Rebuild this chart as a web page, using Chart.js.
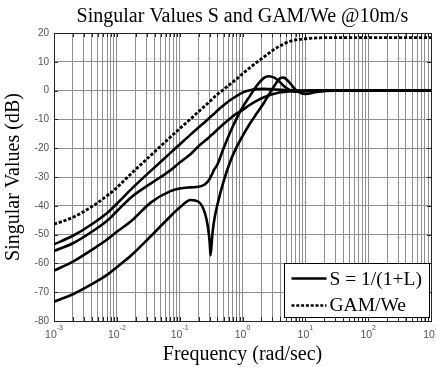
<!DOCTYPE html>
<html>
<head>
<meta charset="utf-8">
<script src="https://cdn.jsdelivr.net/npm/chart.js@4.4.1/dist/chart.umd.min.js"></script>
<style>
  html, body { margin: 0; padding: 0; background: #fff; }
  #wrap { width: 436px; height: 367px; }
</style>
</head>
<body>
<div id="wrap"><canvas id="svChart" width="436" height="367"></canvas></div>
<script>
// frequency points (rad/sec), shared by all curves
const freqs = [0.001, 0.002, 0.004, 0.007, 0.01, 0.017, 0.035, 0.07, 0.1, 0.15, 0.2, 0.25, 0.28, 0.3, 0.31, 0.33, 0.35, 0.4,
  0.5, 0.65, 0.8, 1, 1.3, 1.7, 2.2, 2.6, 3.2, 4, 4.5, 5.5, 7, 10, 15, 30, 100, 1000];

// singular values of S (dB)
const sv1 = [-53.4, -50.4, -46.4, -42.5, -39.3, -34.2, -27.8, -21.8, -18.7, -15.2, -12.8, -11.0, -10.0, -9.4, -9.1, -8.6, -8.1, -6.9,
  -5.1, -3.2, -1.9, -0.7, 0.1, 0.5, 0.6, 0.5, 0.4, 0.3, 0.2, 0.1, 0.1, 0, 0, 0, 0, 0];
const sv2 = [-55.7, -53.0, -49.0, -45.2, -41.9, -37.0, -32.2, -27.8, -25.0, -22.0, -19.3, -17.5, -16.6, -16.0, -15.7, -15.2, -14.7, -13.5,
  -11.6, -9.5, -8.0, -6.7, -5.0, -3.5, -2.3, -1.7, -1.1, -0.6, -0.5, -0.3, -0.2, -0.1, 0, 0, 0, 0];
const sv3 = [-62.5, -59.4, -55.3, -51.7, -49.0, -45.3, -38.8, -35.0, -34.0, -33.6, -33.4, -32.6, -31.6, -30.7, -30.1, -28.9, -27.6, -25.6,
  -20.0, -14.0, -9.8, -5.8, -2.0, 1.8, 4.4, 5.0, 4.5, 2.8, 1.7, 0.3, -0.4, -0.2, 0, 0, 0, 0];
const sv4 = [-73.3, -70.7, -67.2, -64.0, -61.3, -57.2, -50.5, -43.8, -40.6, -38.0, -38.6, -42.3, -47.0, -52.5, -57.2, -50.5, -45.8, -39.5,
  -31.5, -24.2, -19.7, -15.8, -11.6, -7.8, -4.2, -1.6, 1.6, 4.3, 4.5, 3.0, 0.3, -1.2, -0.5, 0, 0, 0];

// weighting GAM/We (dB)
const gamWe = [-46.4, -44.0, -40.3, -36.5, -33.7, -28.8, -22.4, -16.3, -13.2, -9.8, -7.3, -5.4, -4.4, -3.8, -3.5, -3.0, -2.4, -1.3,
  0.4, 2.4, 4.0, 5.8, 7.9, 9.9, 11.7, 12.9, 14.3, 15.6, 16.2, 17.0, 17.6, 18.0, 18.3, 18.4, 18.4, 18.4];

const decades = [-3, -2, -1, 0, 1, 2, 3];
const mantissas = [1, 2, 3, 4, 5, 6, 7, 8, 9];
const yTicks = [-80, -70, -60, -50, -40, -30, -20, -10, 0, 10, 20];
const legendLabels = ['S = 1/(1+L)', 'GAM/We'];

const GRID = '#8f8f8f';
const FRAME = '#262626';
const SERIF = '"Liberation Serif", "Times New Roman", serif';
const SANS = '"Liberation Sans", Arial, sans-serif';

function toPoints(vals) {
  return freqs.map((f, i) => ({ x: f, y: vals[i] }));
}

// every 1..9 x 10^n between 1e-3 and 1e3
const xTickValues = [];
decades.forEach(d => {
  if (d === decades[decades.length - 1]) { xTickValues.push(Math.pow(10, d)); return; }
  mantissas.forEach(m => xTickValues.push(m * Math.pow(10, d)));
});

// frame with inward tick marks, drawn over the grid
const framePlugin = {
  id: 'frame',
  beforeDatasetsDraw(chart) {
    const { ctx, chartArea: a, scales } = chart;
    ctx.save();
    ctx.strokeStyle = FRAME;
    ctx.lineWidth = 1;
    ctx.beginPath();
    scales.x.ticks.forEach(t => {
      const px = Math.round(scales.x.getPixelForValue(t.value)) + 0.5;
      ctx.moveTo(px, a.bottom); ctx.lineTo(px, a.bottom - 4);
      ctx.moveTo(px, a.top); ctx.lineTo(px, a.top + 4);
    });
    scales.y.ticks.forEach(t => {
      const py = Math.round(scales.y.getPixelForValue(t.value)) + 0.5;
      ctx.moveTo(a.left, py); ctx.lineTo(a.left + 4, py);
      ctx.moveTo(a.right, py); ctx.lineTo(a.right - 4, py);
    });
    ctx.stroke();
    ctx.strokeRect(Math.round(a.left) + 0.5, Math.round(a.top) + 0.5,
      Math.round(a.right - a.left), Math.round(a.bottom - a.top));
    ctx.restore();
  }
};

// "10" with a raised exponent under each decade
const decadeLabelPlugin = {
  id: 'decadeLabels',
  afterDraw(chart) {
    const { ctx, chartArea: a, scales } = chart;
    ctx.save();
    ctx.fillStyle = '#555';
    ctx.textBaseline = 'middle';
    ctx.textAlign = 'left';
    decades.forEach(d => {
      const px = scales.x.getPixelForValue(Math.pow(10, d));
      const exp = String(d);
      ctx.font = '10.5px ' + SANS;
      const w1 = ctx.measureText('10').width;
      ctx.font = '7px ' + SANS;
      const w2 = ctx.measureText(exp).width;
      const x0 = px - (w1 + w2) / 2;
      ctx.font = '10.5px ' + SANS;
      ctx.fillText('10', x0, a.bottom + 14.5);
      ctx.font = '7px ' + SANS;
      ctx.fillText(exp, x0 + w1, a.bottom + 7.5);
    });
    ctx.restore();
  }
};

// boxed legend in the lower right corner of the axes
const legendBoxPlugin = {
  id: 'legendBox',
  afterDraw(chart) {
    const { ctx, chartArea: a } = chart;
    const w = 145, h = 54;
    const left = Math.round(a.right - 2 - w) + 0.5;
    const top = Math.round(a.bottom - 4 - h) + 0.5;
    ctx.save();
    ctx.fillStyle = '#fff';
    ctx.fillRect(left, top, w, h);
    ctx.strokeStyle = '#000';
    ctx.lineWidth = 1;
    ctx.strokeRect(left, top, w, h);

    const rows = [top + 15, top + 42];
    ctx.lineWidth = 2.6;
    ctx.strokeStyle = '#000';
    ctx.setLineDash([]);
    ctx.beginPath(); ctx.moveTo(left + 7, rows[0]); ctx.lineTo(left + 42, rows[0]); ctx.stroke();
    ctx.setLineDash([3, 1.8]);
    ctx.beginPath(); ctx.moveTo(left + 7, rows[1]); ctx.lineTo(left + 42, rows[1]); ctx.stroke();
    ctx.setLineDash([]);

    ctx.fillStyle = '#000';
    ctx.font = '19.5px ' + SERIF;
    ctx.textBaseline = 'middle';
    ctx.textAlign = 'left';
    ctx.fillText(legendLabels[0], left + 45, rows[0] + 1.5);
    ctx.fillText(legendLabels[1], left + 45, rows[1]);
    ctx.restore();
  }
};

const solid = { borderColor: '#000', borderWidth: 2.6, pointRadius: 0, fill: false, cubicInterpolationMode: 'monotone' };

const ctx = document.getElementById('svChart').getContext('2d');
const svChart = new Chart(ctx, {
  type: 'line',
  data: {
    datasets: [
      Object.assign({ label: legendLabels[0], data: toPoints(sv1) }, solid),
      Object.assign({ label: legendLabels[0] + ' 2', data: toPoints(sv2) }, solid),
      Object.assign({ label: legendLabels[0] + ' 3', data: toPoints(sv3) }, solid),
      Object.assign({ label: legendLabels[0] + ' 4', data: toPoints(sv4) }, solid),
      Object.assign({ label: legendLabels[1], data: toPoints(gamWe) }, solid, { borderWidth: 2.8, borderDash: [3.2, 1.8] })
    ]
  },
  options: {
    responsive: false,
    animation: false,
    layout: { padding: { left: 0, right: 5, top: 0, bottom: 0 } },
    plugins: {
      legend: { display: false },
      tooltip: { enabled: false },
      title: {
        display: true,
        text: 'Singular Values S and GAM/We @10m/s',
        color: '#000',
        fullSize: false,
        font: { family: SERIF, size: 20, weight: 'normal' },
        padding: { top: 4.7, bottom: 4.3 }
      }
    },
    scales: {
      x: {
        type: 'logarithmic',
        min: 0.001,
        max: 1000,
        afterBuildTicks(scale) {
          scale.ticks = xTickValues.map(v => ({ value: v, major: false }));
        },
        afterFit(scale) { scale.height = 46; scale.paddingLeft = 0; scale.paddingRight = 0; },
        ticks: { display: false, autoSkip: false },
        grid: { color: GRID, lineWidth: 1, drawTicks: false },
        border: { display: false },
        title: {
          display: true,
          text: 'Frequency (rad/sec)',
          color: '#000',
          font: { family: SERIF, size: 20 },
          padding: { top: 0, bottom: 0 }
        }
      },
      y: {
        type: 'linear',
        min: yTicks[0],
        max: yTicks[yTicks.length - 1],
        afterBuildTicks(scale) {
          scale.ticks = yTicks.map(v => ({ value: v }));
        },
        afterFit(scale) { scale.width = 54; },
        ticks: { color: '#555', font: { family: SANS, size: 10 }, padding: 5, autoSkip: false },
        grid: { color: GRID, lineWidth: 1, drawTicks: false },
        border: { display: false },
        title: {
          display: true,
          text: 'Singular Values (dB)',
          color: '#000',
          font: { family: SERIF, size: 20 },
          padding: { top: 1.7, bottom: 0 }
        }
      }
    }
  },
  plugins: [framePlugin, decadeLabelPlugin, legendBoxPlugin]
});
</script>
</body>
</html>
